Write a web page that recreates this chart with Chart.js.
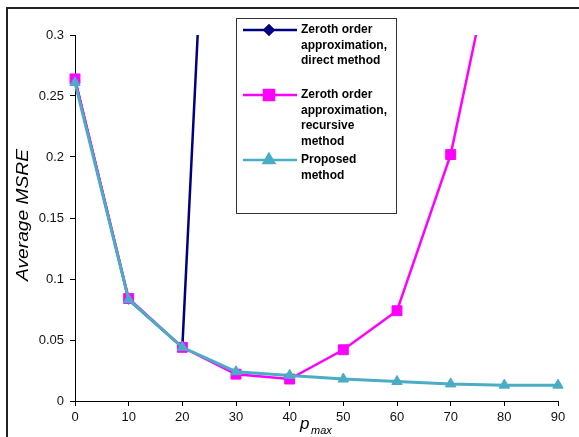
<!DOCTYPE html>
<html lang="en">
<head>
  <meta charset="UTF-8">
  <title>Average MSRE vs p_max</title>
  <script src="https://cdn.jsdelivr.net/npm/chart.js"></script>
  <style>
    html, body { margin: 0; padding: 0; background: #fff; }
    #wrap { position: relative; width: 579px; height: 437px; }
  </style>
</head>
<body>
  <div id="wrap"><canvas id="msreChart"></canvas></div>

  <script>
    // values
    const pMax = [0, 10, 20, 30, 40, 50, 60, 70, 80, 90];
    const directMethod = [0.263, 0.083, 0.044, 0.94];
    const recursiveMethod = [0.264, 0.084, 0.044, 0.022, 0.018, 0.042, 0.074, 0.202, 0.41];
    const proposedMethod = [0.261, 0.083, 0.044, 0.024, 0.021, 0.018, 0.016, 0.014, 0.013, 0.013];
    const xTicks = [0, 10, 20, 30, 40, 50, 60, 70, 80, 90];
    const yTicks = [0, 0.05, 0.1, 0.15, 0.2, 0.25, 0.3];

    const legendItems = [
      { lines: ["Zeroth order", "approximation,", "direct method"], color: "#000080", marker: "rectRot", r: 4.5 },
      { lines: ["Zeroth order", "approximation,", "recursive", "method"], color: "#ff00ff", marker: "rect", r: 7 },
      { lines: ["Proposed", "method"], color: "#4bacc6", marker: "triangle", r: 6 }
    ];

    function toPoints(ys) {
      return ys.map((y, i) => ({ x: pMax[i], y: y }));
    }

    // clip only at the top so that end markers stay whole
    const clipBox = { left: 12, right: 12, top: 0, bottom: 12 };

    const extras = {
      id: "extras",
      beforeDraw(chart) {
        const ctx = chart.ctx;
        ctx.save();
        ctx.fillStyle = "#fff";
        ctx.fillRect(0, 0, chart.width, chart.height);
        ctx.restore();
      },
      afterDraw(chart) {
        const ctx = chart.ctx;
        ctx.save();

        // outer frame (only top and left edges visible)
        ctx.strokeStyle = "#222";
        ctx.lineWidth = 2;
        ctx.beginPath();
        ctx.moveTo(7, chart.height);
        ctx.lineTo(7, 8);
        ctx.lineTo(chart.width, 8);
        ctx.stroke();

        // y axis title
        ctx.fillStyle = "#000";
        ctx.save();
        ctx.translate(28, 215);
        ctx.rotate(-Math.PI / 2);
        ctx.scale(1.2, 1);
        ctx.font = "italic 16px Arial, 'Liberation Sans'";
        ctx.textAlign = "center";
        ctx.textBaseline = "alphabetic";
        ctx.fillText("Average MSRE", 0, 0);
        ctx.restore();

        // x axis title p_max
        ctx.font = "italic 17px Arial, 'Liberation Sans'";
        ctx.textAlign = "left";
        ctx.textBaseline = "alphabetic";
        ctx.fillText("p", 300, 429);
        ctx.font = "italic 11px Arial, 'Liberation Sans'";
        ctx.fillText("max", 311, 434);

        // legend box
        ctx.strokeStyle = "#333";
        ctx.lineWidth = 1;
        ctx.strokeRect(236.5, 18.5, 160, 195);

        const rowY = [30, 95, 160];
        ctx.font = "bold 12px Arial, 'Liberation Sans'";
        ctx.textBaseline = "middle";
        legendItems.forEach((item, k) => {
          const y = rowY[k];
          ctx.strokeStyle = item.color;
          ctx.lineWidth = 2.5;
          ctx.beginPath();
          ctx.moveTo(243, y);
          ctx.lineTo(297, y);
          ctx.stroke();
          ctx.fillStyle = item.color;
          Chart.helpers.drawPoint(ctx, { pointStyle: item.marker, radius: item.r, borderWidth: 1, rotation: 0 }, 269, y);
          ctx.fill();
          ctx.fillStyle = "#000";
          item.lines.forEach((t, j) => ctx.fillText(t, 301, y + j * 15.5));
        });

        ctx.restore();
      }
    };

    const ctx = document.getElementById("msreChart").getContext("2d");
    new Chart(ctx, {
      type: "line",
      data: {
        datasets: [
          {
            label: "Zeroth order approximation, direct method",
            data: toPoints(directMethod),
            borderColor: "#000080",
            backgroundColor: "#000080",
            borderWidth: 2.5,
            pointStyle: "rectRot",
            pointRadius: 4.5,
            pointBorderWidth: 1,
            clip: clipBox,
            order: 3
          },
          {
            label: "Zeroth order approximation, recursive method",
            data: toPoints(recursiveMethod),
            borderColor: "#ff00ff",
            backgroundColor: "#ff00ff",
            borderWidth: 2.5,
            pointStyle: "rect",
            pointRadius: 7,
            pointBorderWidth: 1,
            clip: clipBox,
            order: 2
          },
          {
            label: "Proposed method",
            data: toPoints(proposedMethod),
            borderColor: "#4bacc6",
            backgroundColor: "#4bacc6",
            borderWidth: 3,
            pointStyle: "triangle",
            pointRadius: 6,
            pointBorderWidth: 1,
            clip: clipBox,
            order: 1
          }
        ]
      },
      options: {
        responsive: true,
        maintainAspectRatio: false,
        animation: false,
        events: [],
        layout: { padding: { top: 35, right: 21, left: 0, bottom: 0 } },
        plugins: {
          legend: { display: false },
          tooltip: { enabled: false }
        },
        scales: {
          x: {
            type: "linear",
            min: 0,
            max: 90,
            afterBuildTicks: s => { s.ticks = xTicks.map(v => ({ value: v })); },
            afterFit: s => { s.height = 36; },
            grid: { drawOnChartArea: false, drawTicks: true, tickLength: 5, color: "#000" },
            border: { color: "#000", width: 1 },
            ticks: {
              color: "#111",
              padding: 4,
              maxRotation: 0,
              font: { family: "Arial, 'Liberation Sans'", size: 13 }
            }
          },
          y: {
            type: "linear",
            min: 0,
            max: 0.3,
            afterBuildTicks: s => { s.ticks = yTicks.map(v => ({ value: v })); },
            afterFit: s => { s.width = 75; },
            grid: { drawOnChartArea: false, drawTicks: true, tickLength: 5, color: "#000" },
            border: { color: "#000", width: 1 },
            ticks: {
              color: "#111",
              padding: 6,
              callback: v => String(+v.toFixed(2)),
              font: { family: "Arial, 'Liberation Sans'", size: 13 }
            }
          }
        }
      },
      plugins: [extras]
    });
  </script>
</body>
</html>
